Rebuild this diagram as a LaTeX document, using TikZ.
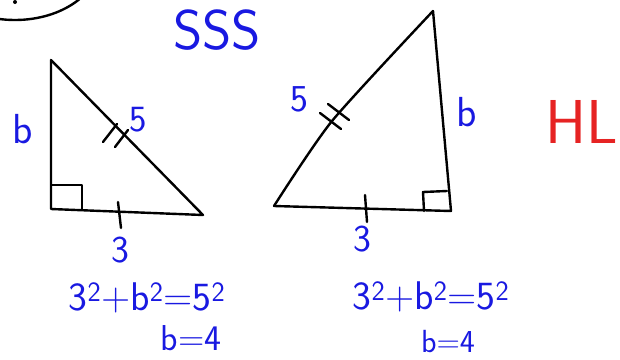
\documentclass[tikz,border=0pt]{standalone}
\usetikzlibrary{calc}
\definecolor{penblue}{RGB}{25,25,225}
\definecolor{penred}{RGB}{230,35,35}
\tikzset{
  pen/.style={line width=2.4pt, line cap=round, line join=round},
  lbl/.style={text=penblue, inner sep=0pt, font=\sffamily\fontsize{#1}{#1}\selectfont},
}
\begin{document}
\begin{tikzpicture}[x=1pt,y=-1pt]
	\useasboundingbox (0,0) rectangle (620,359);
	\begin{scope}
		\clip (0,0) rectangle (620,359);
		\draw[pen] (15,-40) ellipse (85 and 60);
	\end{scope}
	\fill (15,2) circle (2);
	\node[lbl=56] (sss) at (217,30) {SSS};

	% left triangle
	\coordinate (T1) at (51,60);
	\coordinate (L1) at (51,209);
	\coordinate (R1) at (203,215);
	\draw[pen] (T1) -- (L1) -- (R1) -- cycle;
	\draw[pen] (52,185) -- (82,185) -- (82,209);
	\draw[pen] (118,202) -- (121,228);
	\draw[pen] (103,142) -- (117,124);
	\draw[pen] (115,147) -- (128,130);
	\node[lbl=42] (b1) at (23,129) {b};
	\node[lbl=37] (h1) at (138,120) {5};
	\node[lbl=38] (s1) at (120,250) {3};
	\node[lbl=40] (eq1) at (147,298) {3\textsuperscript{2}+b\textsuperscript{2}=5\textsuperscript{2}};
	\node[lbl=36] (ans1) at (191,338) {b=4};

	% right triangle
	\coordinate (T2) at (433,11);
	\coordinate (L2) at (274,206);
	\coordinate (R2) at (451,211);
	\draw[pen] (T2) -- (R2) -- (L2);
	\draw[pen] plot[smooth, tension=0.4] coordinates {(L2) (332,121) (T2)};
	\draw[pen] (424,211) -- (423,192) -- (447,191);
	\draw[pen] (365,195) -- (367,222);
	\draw[pen] (320,113) -- (341,129);
	\draw[pen] (328,104) -- (349,120);
	\node[lbl=38] (h2) at (299,99) {5};
	\node[lbl=42] (b2) at (467,112) {b};
	\node[lbl=38] (s2) at (362,239) {3};
	\node[lbl=40] (eq2) at (431,297) {3\textsuperscript{2}+b\textsuperscript{2}=5\textsuperscript{2}};
	\node[lbl=32] (ans2) at (448,342) {b=4};
	\node[lbl=62, text=penred] (hl) at (582,122) {HL};
\end{tikzpicture}
\end{document}
